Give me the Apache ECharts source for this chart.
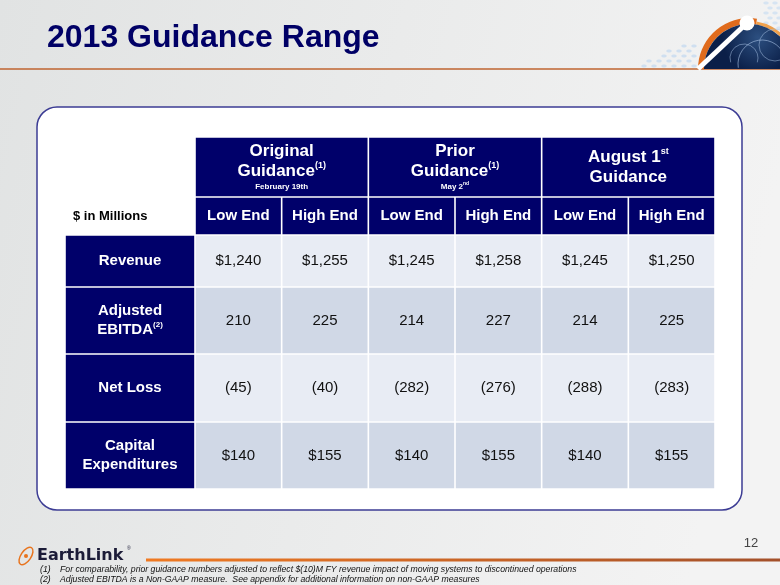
<!DOCTYPE html>
<html>
<head>
<meta charset="utf-8">
<title>2013 Guidance Range</title>
<script src="https://cdn.jsdelivr.net/npm/echarts@6/dist/echarts.min.js"></script>
<style>
  html, body { margin: 0; padding: 0; }
  #echarts { width: 780px; height: 585px; }
</style>
</head>
<body>
<div id="echarts"></div>
<script>
// 数据
var metrics = ['Revenue', 'Adjusted EBITDA', 'Net Loss', 'Capital Expenditures'];
var valuePrefix = ['$', '', '', '$'];
var subColumns = ['Low End', 'High End'];
var originalLow = [1240, 210, -45, 140];
var originalHigh = [1255, 225, -40, 155];
var priorLow = [1245, 214, -282, 140];
var priorHigh = [1258, 227, -276, 155];
var augustLow = [1245, 214, -288, 140];
var augustHigh = [1250, 225, -283, 155];
var unitLabel = '$ in Millions';
var footnotes = [
  'For comparability, prior guidance numbers adjusted to reflect $(10)M FY revenue impact of moving systems to discontinued operations',
  'Adjusted EBITDA is a Non-GAAP measure.  See appendix for additional information on non-GAAP measures'
];

// 表头（富文本）
var groupHeaders = [
  '{b|Original}\n{b|Guidance}{sup|(1)}\n{s|February 19th}',
  '{b|Prior}\n{b|Guidance}{sup|(1)}\n{s|May 2}{ss|nd}',
  '{b|August 1}{sup|st}\n{b|Guidance}'
];
var rowHeaders = [
  '{b|Revenue}',
  '{b|Adjusted}\n{b|EBITDA}{sup|(2)}',
  '{b|Net Loss}',
  '{b|Capital}\n{b|Expenditures}'
];
var valueCols = [originalLow, originalHigh, priorLow, priorHigh, augustLow, augustHigh];

// 布局（列宽、行高的比例）
var colW = [1.5, 1, 1, 1, 1, 1, 1];
var rowH = [60, 38, 52, 67, 68, 67];
var NAVY = '#00006a';
var rowFill = ['#e8ecf4', '#d0d8e6', '#e8ecf4', '#d0d8e6'];
var FONT = 'Arial, "Liberation Sans", sans-serif';

function sum(arr, a, b) {
  var s = 0;
  for (var i = a; i < b; i++) s += arr[i];
  return s;
}

function fmt(v, prefix) {
  var s = Math.abs(v).toLocaleString('en-US');
  s = prefix + s;
  return v < 0 ? '(' + s + ')' : s;
}

// 单元格
var cells = [];
// 分组表头
for (var g = 0; g < 3; g++) {
  cells.push({ col: 1 + g * 2, row: 0, span: 2, fill: NAVY, text: groupHeaders[g], kind: 'head' });
}
// 单位标签
cells.push({ col: 0, row: 1, span: 1, fill: null, text: unitLabel, kind: 'unit' });
// Low / High
for (var c = 0; c < 6; c++) {
  cells.push({ col: 1 + c, row: 1, span: 1, fill: NAVY, text: '{b|' + subColumns[c % 2] + '}', kind: 'head' });
}
// 数据行
for (var r = 0; r < metrics.length; r++) {
  cells.push({ col: 0, row: 2 + r, span: 1, fill: NAVY, text: rowHeaders[r], kind: 'head' });
  for (var k = 0; k < valueCols.length; k++) {
    cells.push({ col: 1 + k, row: 2 + r, span: 1, fill: rowFill[r], text: fmt(valueCols[k][r], valuePrefix[r]), kind: 'value' });
  }
}

var headRich = {
  b: { fontFamily: FONT, fontSize: 15, fontWeight: 'bold', fill: '#fff', lineHeight: 19 },
  sup: { fontFamily: FONT, fontSize: 8, fontWeight: 'bold', fill: '#fff', verticalAlign: 'top', lineHeight: 10 },
  s: { fontFamily: FONT, fontSize: 8, fontWeight: 'bold', fill: '#fff', lineHeight: 12 },
  ss: { fontFamily: FONT, fontSize: 5, fontWeight: 'bold', fill: '#fff', verticalAlign: 'top', lineHeight: 6 }
};
var bigRich = JSON.parse(JSON.stringify(headRich));
bigRich.b.fontSize = 17;
bigRich.b.lineHeight = 20;
bigRich.sup.fontSize = 9;

function renderCell(params, api) {
  var cell = cells[params.dataIndex];
  var x0 = sum(colW, 0, cell.col), x1 = x0 + sum(colW, cell.col, cell.col + cell.span);
  var y0 = sum(rowH, 0, cell.row), y1 = y0 + rowH[cell.row];
  var p0 = api.coord([x0, y0]);
  var p1 = api.coord([x1, y1]);
  var gap = 0.8;
  var children = [];
  if (cell.fill) {
    children.push({
      type: 'rect',
      shape: { x: p0[0] + gap, y: p0[1] + gap, width: p1[0] - p0[0] - gap * 2, height: p1[1] - p0[1] - gap * 2 },
      style: { fill: cell.fill }
    });
  }
  var cx = (p0[0] + p1[0]) / 2, cy = (p0[1] + p1[1]) / 2;
  if (cell.kind === 'unit') {
    children.push({
      type: 'text',
      style: { text: cell.text, x: p0[0] + 8, y: cy, align: 'left', verticalAlign: 'middle',
        fill: '#000', font: 'bold 13px ' + FONT }
    });
  } else if (cell.kind === 'value') {
    children.push({
      type: 'text',
      style: { text: cell.text, x: cx, y: cy, align: 'center', verticalAlign: 'middle',
        fill: '#111', font: '15px ' + FONT }
    });
  } else {
    children.push({
      type: 'text',
      style: { text: cell.text, x: cx, y: cy, align: 'center', verticalAlign: 'middle',
        fill: '#fff', rich: cell.row === 0 ? bigRich : headRich }
    });
  }
  return { type: 'group', children: children };
}

// 装饰：地球标志的小点
var dots = [];
for (var dr = 0; dr < 5; dr++) {
  for (var dc = 0; dc <= dr + 1; dc++) {
    dots.push({
      type: 'ellipse', silent: true, z: 1,
      shape: { cx: 694 - dc * 10 - (dr % 2) * 5, cy: 46 + dr * 5, rx: 2.8, ry: 1.5 },
      style: { fill: '#cfdff0' }
    });
  }
}
for (var tr = 0; tr < 7; tr++) {
  for (var tc = 0; tc < 2; tc++) {
    dots.push({
      type: 'ellipse', silent: true, z: 1,
      shape: { cx: 766 + tc * 9 + (tr % 2) * 4, cy: 3 + tr * 5, rx: 2.8, ry: 1.5 },
      style: { fill: '#d6e4f2' }
    });
  }
}

var chart = echarts.init(document.getElementById('echarts'));

var option = {
  animation: false,
  backgroundColor: {
    type: 'linear', x: 0, y: 0, x2: 1, y2: 0.3,
    colorStops: [{ offset: 0, color: '#e1e3e3' }, { offset: 1, color: '#f3f3f3' }]
  },
  title: {
    text: '2013 Guidance Range',
    left: 42,
    top: 17,
    textStyle: { fontFamily: FONT, fontSize: 32, fontWeight: 'bold', color: '#000066' }
  },
  grid: { left: 65, top: 137, width: 650, height: sum(rowH, 0, rowH.length) },
  xAxis: { type: 'value', min: 0, max: sum(colW, 0, colW.length), show: false },
  yAxis: { type: 'value', min: 0, max: sum(rowH, 0, rowH.length), inverse: true, show: false },
  graphic: [
    // 白色圆角框
    {
      type: 'rect', z: 0, silent: true,
      shape: { x: 37, y: 107, width: 705, height: 403, r: 20 },
      style: { fill: '#ffffff', stroke: '#3c3c94', lineWidth: 1.5 }
    },
    // 标题下的橙线
    {
      type: 'line', z: 1, silent: true,
      shape: { x1: 0, y1: 69, x2: 780, y2: 69 },
      style: { stroke: '#bf6530', lineWidth: 1.5 }
    }
  ].concat(dots).concat([
    // 地球
    {
      type: 'sector', z: 2, silent: true,
      shape: { cx: 749, cy: 69, r0: 45, r: 51, startAngle: Math.PI, endAngle: Math.PI * 1.55 },
      style: { fill: '#e06b1c' }
    },
    {
      type: 'sector', z: 2, silent: true,
      shape: { cx: 749, cy: 69, r0: 45, r: 48, startAngle: Math.PI * 1.55, endAngle: Math.PI * 2 },
      style: { fill: '#efa04c' }
    },
    {
      type: 'sector', z: 2, silent: true,
      shape: { cx: 749, cy: 69, r0: 0, r: 45, startAngle: Math.PI, endAngle: Math.PI * 2 },
      style: {
        fill: {
          type: 'radial', x: 0.6, y: 0.3, r: 0.8,
          colorStops: [{ offset: 0, color: '#2c4f80' }, { offset: 1, color: '#0b1f48' }]
        }
      }
    },
    {
      type: 'arc', z: 3, silent: true,
      shape: { cx: 762, cy: 64, r: 24, startAngle: Math.PI * 0.95, endAngle: Math.PI * 2.05 },
      style: { stroke: 'rgba(170,195,230,0.6)', lineWidth: 1, fill: null }
    },
    {
      type: 'arc', z: 3, silent: true,
      shape: { cx: 744, cy: 58, r: 14, startAngle: Math.PI * 0.9, endAngle: Math.PI * 2.1 },
      style: { stroke: 'rgba(170,195,230,0.5)', lineWidth: 1, fill: null }
    },
    {
      type: 'arc', z: 3, silent: true,
      shape: { cx: 775, cy: 45, r: 16, startAngle: 0, endAngle: Math.PI * 2 },
      style: { stroke: 'rgba(170,195,230,0.5)', lineWidth: 1, fill: null }
    },
    {
      type: 'line', z: 4, silent: true,
      shape: { x1: 698, y1: 69, x2: 747, y2: 23 },
      style: { stroke: '#ffffff', lineWidth: 5 }
    },
    {
      type: 'circle', z: 4, silent: true,
      shape: { cx: 747, cy: 23, r: 7.5 },
      style: { fill: '#ffffff' }
    },
    // 页码
    {
      type: 'text', z: 5, silent: true,
      style: { text: '12', x: 751, y: 543, align: 'center', verticalAlign: 'middle', fill: '#444', font: '13px ' + FONT }
    },
    // 底部橙线
    {
      type: 'line', z: 1, silent: true,
      shape: { x1: 146, y1: 560, x2: 780, y2: 560 },
      style: {
        lineWidth: 3,
        stroke: {
          type: 'linear', x: 0, y: 0, x2: 1, y2: 0,
          colorStops: [{ offset: 0, color: '#f07a22' }, { offset: 1, color: '#a3502a' }]
        }
      }
    },
    // EarthLink 标志
    {
      type: 'ellipse', z: 5, silent: true,
      shape: { cx: 26, cy: 556, rx: 5, ry: 10 },
      rotation: -0.6, originX: 26, originY: 556,
      style: { stroke: '#e8741e', lineWidth: 1.5, fill: null }
    },
    {
      type: 'circle', z: 5, silent: true,
      shape: { cx: 26, cy: 556, r: 2 },
      style: { fill: '#e8741e' }
    },
    {
      type: 'text', z: 5, silent: true,
      style: { text: 'EarthLink', x: 37, y: 556, align: 'left', verticalAlign: 'middle',
        fill: '#1c1c38', font: 'bold 16px "DejaVu Sans", sans-serif' }
    },
    {
      type: 'text', z: 5, silent: true,
      style: { text: '®', x: 127, y: 549, align: 'left', verticalAlign: 'middle', fill: '#1c1c38', font: '5px ' + FONT }
    },
    // 脚注
    {
      type: 'text', z: 5, silent: true,
      style: { text: '(1)', x: 40, y: 570, align: 'left', verticalAlign: 'middle', fill: '#111', font: 'italic 8.7px ' + FONT }
    },
    {
      type: 'text', z: 5, silent: true,
      style: { text: footnotes[0], x: 60, y: 570, align: 'left', verticalAlign: 'middle', fill: '#111', font: 'italic 8.7px ' + FONT }
    },
    {
      type: 'text', z: 5, silent: true,
      style: { text: '(2)', x: 40, y: 580, align: 'left', verticalAlign: 'middle', fill: '#111', font: 'italic 8.7px ' + FONT }
    },
    {
      type: 'text', z: 5, silent: true,
      style: { text: footnotes[1], x: 60, y: 580, align: 'left', verticalAlign: 'middle', fill: '#111', font: 'italic 8.7px ' + FONT }
    }
  ]),
  series: [{
    type: 'custom',
    z: 10,
    silent: true,
    renderItem: renderCell,
    encode: { x: 0, y: 1 },
    data: cells.map(function (cell) { return [cell.col, cell.row]; })
  }]
};

chart.setOption(option);
</script>
</body>
</html>
